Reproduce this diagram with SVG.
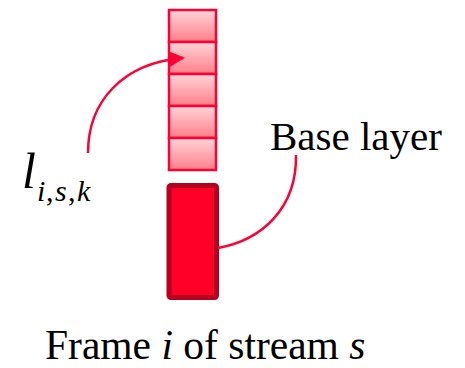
<svg xmlns="http://www.w3.org/2000/svg" width="465" height="368" viewBox="0 0 465 368">
  <defs>
    <linearGradient id="cellGrad" x1="0" y1="0" x2="0" y2="1">
      <stop offset="0" stop-color="#FFD3D8"/>
      <stop offset="1" stop-color="#FF7F8A"/>
    </linearGradient>
    <marker id="arrow" viewBox="0 0 16 16" refX="14" refY="8" markerWidth="16" markerHeight="16" markerUnits="userSpaceOnUse" orient="auto">
      <path d="M0,0 L16,8 L0,16 Z" fill="#FF0033"/>
    </marker>
    <style>
      .cell { fill: url(#cellGrad); stroke: #FF0033; stroke-width: 2.5; }
      .conn { fill: none; stroke: #FF0033; stroke-width: 2.5; }
      text { font-family: 'Liberation Serif', 'Times New Roman', serif; fill: #000; }
    </style>
  </defs>

  <g id="enhancement-layers">
    <rect class="cell" x="169" y="10" width="47" height="32"/>
    <rect class="cell" x="169" y="42" width="47" height="32"/>
    <rect class="cell" x="169" y="74" width="47" height="32"/>
    <rect class="cell" x="169" y="106" width="47" height="32"/>
    <rect class="cell" x="169" y="138" width="47" height="32"/>
  </g>

  <g id="base-layer-block">
    <rect x="169" y="185.5" width="47.5" height="112" rx="2" fill="#FF0028" stroke="#B5001F" stroke-width="5"/>
  </g>

  <g id="connectors">
    <path class="conn" d="M88,153 C88,102 122,63 183,58" marker-end="url(#arrow)"/>
    <path class="conn" d="M218,248 C262,240 297,208 296,155"/>
  </g>

  <g id="label-l">
    <text x="22" y="188" font-size="50" font-style="italic">l</text>
    <text x="37" y="201" font-size="30" font-style="italic">i</text>
    <text x="46" y="201" font-size="30">,</text>
    <text x="55" y="201" font-size="30" font-style="italic">s</text>
    <text x="68" y="201" font-size="30">,</text>
    <text x="77" y="201" font-size="30" font-style="italic">k</text>
  </g>

  <g id="label-base">
    <text x="270" y="150" font-size="41">Base layer</text>
  </g>

  <g id="label-frame">
    <text x="45" y="359" font-size="41.5">Frame <tspan font-style="italic">i</tspan> of stream <tspan font-style="italic">s</tspan></text>
  </g>
</svg>
